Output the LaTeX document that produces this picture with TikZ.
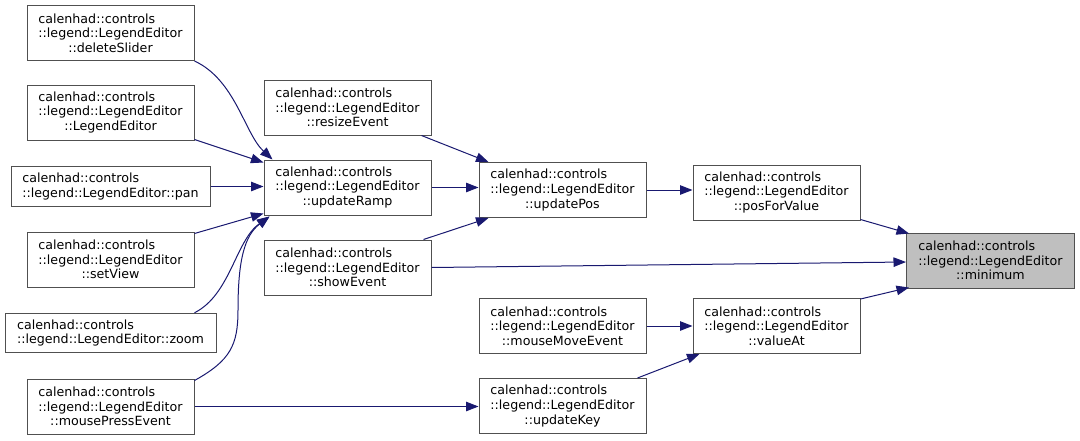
\documentclass[tikz,border=0pt]{standalone}
\usepackage{fontspec}
\usepackage{calc}
\setmainfont{DejaVu Sans}
\usetikzlibrary{arrows.meta,calc}
\definecolor{edgeblue}{HTML}{191970}
\definecolor{boxline}{HTML}{505050}
\definecolor{hilite}{HTML}{BFBFBF}
\newcommand{\ctlw}[1]{\makebox[\widthof{#1}][l]{calenhad::controls}}
\newcommand{\three}[1]{\ctlw{::legend::LegendEditor}\\::legend::LegendEditor\\#1}
\tikzset{
  fn/.style={draw=boxline, line width=1pt, fill=white, inner sep=0pt,
    minimum width=167pt, minimum height=55pt, align=center,
    font=\fontsize{12.65}{14.6}\selectfont},
  fntwo/.style={fn, minimum height=39.5pt},
  call/.style={draw=edgeblue, line width=1pt, -{Triangle[length=12.5pt,width=9.5pt]}, edgeblue},
}
\begin{document}
\begin{tikzpicture}[x=1pt,y=-1pt]
\useasboundingbox (0,0) rectangle (1080,440);
% left column
\node[fn] (del) at (110.5,33) {\three{::deleteSlider}};
\node[fn] (ctor) at (110.5,112.5) {\three{::LegendEditor}};
\node[fntwo, minimum width=199pt] (pan) at (110.5,186.5) {\ctlw{::legend::LegendEditor::pan}\\::legend::LegendEditor::pan};
\node[fn] (setv) at (110.5,259.5) {\three{::setView}};
\node[fntwo, minimum width=211pt] (zoom) at (110.5,333) {\ctlw{::legend::LegendEditor::zoom}\\::legend::LegendEditor::zoom};
\node[fn] (mp) at (110.5,406.5) {\three{::mousePressEvent}};
% second column
\node[fn] (rs) at (347.5,107.5) {\three{::resizeEvent}};
\node[fn] (ramp) at (347.5,187.5) {\three{::updateRamp}};
\node[fn] (show) at (347.5,267.5) {\three{::showEvent}};
% third column
\node[fn] (upd) at (562.5,190) {\three{::updatePos}};
\node[fn] (mm) at (562.5,326) {\three{::mouseMoveEvent}};
\node[fn] (uk) at (562.5,406) {\three{::updateKey}};
% fourth column
\node[fn] (pfv) at (776.5,192.5) {\three{::posForValue}};
\node[fn] (va) at (776.5,326) {\three{::valueAt}};
% target
\node[fn, fill=hilite, minimum width=168pt] (min) at (990.5,260.5) {\three{::minimum}};
% edges into updateRamp
\draw[call] (del.south east) .. controls +(41,19) and +(-28,-26) .. ($(ramp.north west)+(9,0)$);
\draw[call] ($(ctor.south east)+(0,-1)$) -- ($(ramp.north west)+(0,3)$);
\draw[call] (pan.east) -- (pan.east -| ramp.west);
\draw[call] ($(setv.north east)+(0,2)$) -- ($(ramp.south west)+(0,-2)$);
\draw[call] ($(zoom.north east)+(-22,0)$) .. controls +(36,-18) and +(-34,24) .. ($(ramp.south west)+(6,1)$);
\draw[call] ($(mp.north east)+(0,2)$) .. controls +(36,-20) and +(0,35) .. (238,310) .. controls +(0,-50) and +(-25,19) .. ($(ramp.south west)+(6,1)$);
% edges into updatePos
\draw[call] ($(rs.south east)+(-10,0)$) -- ($(upd.north west)+(10,0)$);
\draw[call] (ramp.east) -- (ramp.east -| upd.west);
\draw[call] ($(show.north east)+(-8,0)$) -- ($(upd.south west)+(10,0)$);
% edges into posForValue / valueAt / updateKey
\draw[call] (upd.east) -- (upd.east -| pfv.west);
\draw[call] (mm.east) -- (mm.east -| va.west);
\draw[call] ($(uk.north east)+(-9,0)$) -- ($(va.south west)+(7,0)$);
\draw[call] (mp.east) -- (mp.east -| uk.west);
% edges into minimum
\draw[call] ($(pfv.south east)+(0,-1)$) -- ($(min.north west)+(3,1)$);
\draw[call] (show.east) -- ($(min.west)+(0,1.5)$);
\draw[call] ($(va.north east)+(0,1)$) -- ($(min.south west)+(3,-1)$);
\end{tikzpicture}
\end{document}
